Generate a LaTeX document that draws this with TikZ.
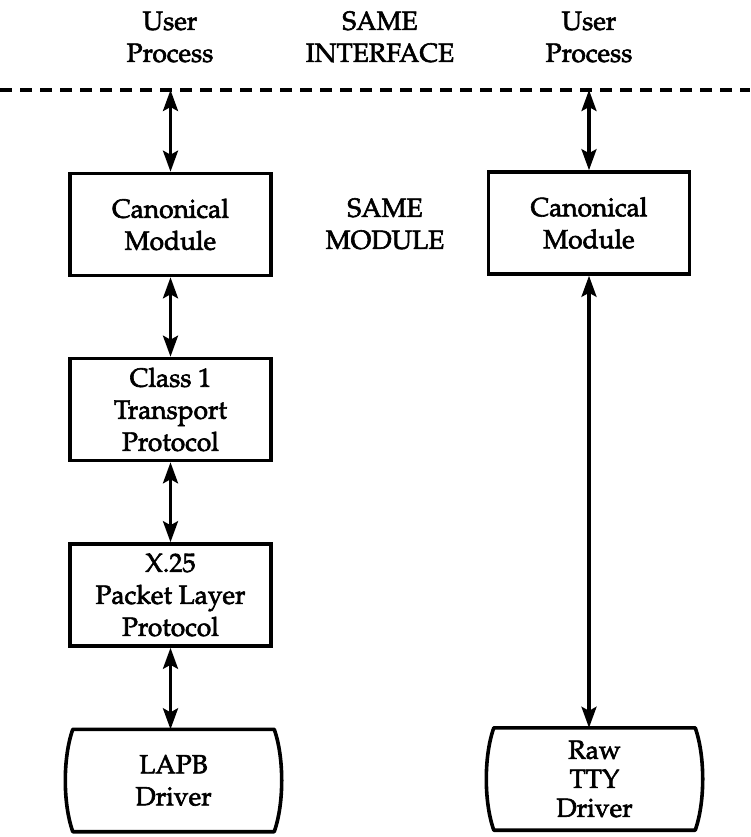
\documentclass[tikz,border=0pt]{standalone}
\usepackage[T1]{fontenc}
\usepackage{mathpazo}
\usetikzlibrary{arrows.meta}
\newcommand\heavytext[1]{\special{pdf:literal direct 2 Tr 0.6 w}#1\special{pdf:literal direct 0 Tr}}
\begin{document}
\begin{tikzpicture}[x=1pt,y=-1pt,
  every node/.style={font=\fontsize{26.3}{32}\selectfont, inner sep=0pt, align=center},
  modbox/.style={draw, line width=3.6pt, minimum width=201pt, minimum height=102pt},
  drvbox/.style={minimum width=201pt, minimum height=102pt},
  drvline/.style={draw, line width=3.6pt, line join=round},
  link/.style={line width=3.2pt, {Stealth[length=21pt,width=15pt,inset=4pt]}-{Stealth[length=21pt,width=15pt,inset=4pt]}},
  iface/.style={line width=4pt, dash pattern=on 12pt off 8pt}
]
\useasboundingbox (0,0) rectangle (750,837);

% top labels
\node (up1) at (170,37) {\heavytext{User}\\\heavytext{Process}};
\node (same1) at (380,37) {\heavytext{SAME}\\\heavytext{INTERFACE}};
\node (up2) at (589,37) {\heavytext{User}\\\heavytext{Process}};

% interface line
\coordinate (dl) at (0,90);
\coordinate (dr) at (750,90);
\draw[iface] (dl) -- (dr);

% left column
\node[modbox] (canL) at (170.5,224.5) {\heavytext{Canonical}\\\heavytext{Module}};
\node (same2) at (385,224) {\heavytext{SAME}\\\heavytext{MODULE}};
\node[modbox] (cls) at (170.5,409.5) {\heavytext{Class 1}\\\heavytext{Transport}\\\heavytext{Protocol}};
\node[modbox] (x25) at (170.5,595) {\heavytext{X.25}\\\heavytext{Packet Layer}\\\heavytext{Protocol}};
\node[drvbox] (lapb) at (173.5,780.5) {\heavytext{LAPB}\\\heavytext{Driver}};
\draw[drvline] (lapb.north west) -- (lapb.north east)
  .. controls +(10,28) and +(10,-28) .. (lapb.south east)
  -- (lapb.south west)
  .. controls +(-10,-28) and +(-10,28) .. (lapb.north west) -- cycle;

% right column
\node[modbox] (canR) at (589,223) {\heavytext{Canonical}\\\heavytext{Module}};
\node[drvbox, font=\fontsize{26.3}{29}\selectfont] (raw) at (594.5,779) {\heavytext{Raw}\\\heavytext{TTY}\\\heavytext{Driver}};
\draw[drvline] (raw.north west) -- (raw.north east)
  .. controls +(10,28) and +(10,-28) .. (raw.south east)
  -- (raw.south west)
  .. controls +(-10,-28) and +(-10,28) .. (raw.north west) -- cycle;

% connectors
\coordinate (tL) at (170.5,90);
\coordinate (tR) at (589,90);
\draw[link] (tL) -- (canL.north);
\draw[link] (canL.south) -- (cls.north);
\draw[link] (cls.south) -- (x25.north);
\draw[link] (x25.south) -- (x25.south |- lapb.north);
\draw[link] (tR) -- (canR.north);
\draw[link] (canR.south) -- (canR.south |- raw.north);
\end{tikzpicture}
\end{document}
